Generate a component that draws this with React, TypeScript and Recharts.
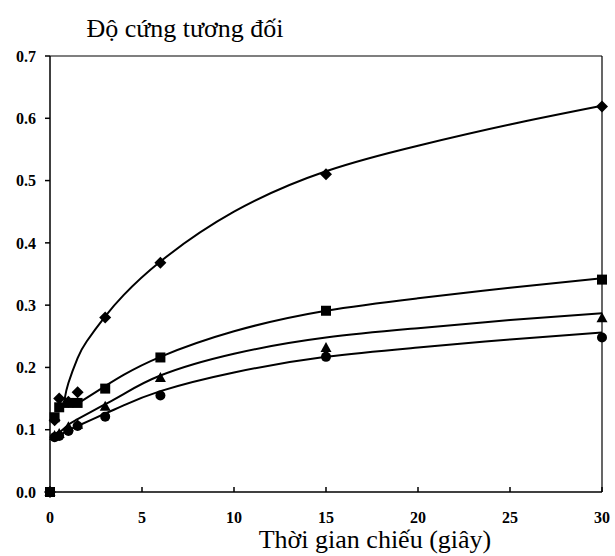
import { ComposedChart, Line, Scatter, XAxis, YAxis, ReferenceLine } from 'recharts'

// measured points (time in seconds, relative hardness)
const times = [0, 0.25, 0.5, 1, 1.5, 3, 6, 15, 30]
const diamondValues = [0, 0.115, 0.15, 0.145, 0.16, 0.28, 0.368, 0.51, 0.619]
const squareValues = [0, 0.12, 0.136, 0.143, 0.143, 0.166, 0.216, 0.291, 0.341]
const triangleValues = [0, 0.09, 0.093, 0.104, 0.108, 0.137, 0.183, 0.231, 0.279]
const circleValues = [0, 0.088, 0.09, 0.098, 0.106, 0.121, 0.155, 0.217, 0.248]

// fitted curves
const diamondFitTimes = [0.8, 1, 1.5, 2, 3, 4, 6, 10, 15, 20, 25, 30]
const diamondFitValues = [0.15, 0.175, 0.215, 0.242, 0.282, 0.316, 0.37, 0.45, 0.515, 0.556, 0.59, 0.62]
const squareFitTimes = [1.5, 3, 4, 6, 10, 15, 20, 25, 30]
const squareFitValues = [0.142, 0.17, 0.188, 0.217, 0.258, 0.291, 0.311, 0.328, 0.343]
const triangleFitTimes = [0.3, 1, 1.5, 3, 4, 6, 10, 15, 20, 25, 30]
const triangleFitValues = [0.09, 0.108, 0.117, 0.141, 0.157, 0.187, 0.222, 0.248, 0.263, 0.276, 0.287]
const circleFitTimes = [0.3, 1, 1.5, 3, 4, 6, 10, 15, 20, 25, 30]
const circleFitValues = [0.088, 0.099, 0.106, 0.126, 0.139, 0.162, 0.192, 0.217, 0.232, 0.245, 0.256]

const xTicks = [0, 5, 10, 15, 20, 25, 30]
const yTicks = [0, 0.1, 0.2, 0.3, 0.4, 0.5, 0.6, 0.7]

const yTitle = 'Độ cứng tương đối'
const xTitle = 'Thời gian chiếu (giây)'

const pts = (xs: number[], ys: number[]) => xs.map((x, i) => ({ x, y: ys[i] }))

const serif = '"Liberation Serif", "Times New Roman", serif'

const Diamond = (p: any) => {
  const { cx, cy } = p
  const r = 6
  return <path d={`M${cx},${cy - r}L${cx + r},${cy}L${cx},${cy + r}L${cx - r},${cy}Z`} fill="#000" />
}
const Square = (p: any) => <rect x={p.cx - 5} y={p.cy - 5} width={10} height={10} fill="#000" />
const Triangle = (p: any) => {
  const { cx, cy } = p
  return <path d={`M${cx},${cy - 6}L${cx + 5.5},${cy + 4}L${cx - 5.5},${cy + 4}Z`} fill="#000" />
}
const Circle = (p: any) => <circle cx={p.cx} cy={p.cy} r={5} fill="#000" />

const fitLine = (data: { x: number; y: number }[], key: string) => (
  <Line
    key={key}
    data={data}
    dataKey="y"
    type="natural"
    dot={false}
    activeDot={false}
    stroke="#000"
    strokeWidth={2}
    isAnimationActive={false}
  />
)

export default function App() {
  const tick = { fontFamily: serif, fontSize: 16, fontWeight: 'bold', fill: '#000' }
  return (
    <div style={{ position: 'absolute', left: 0, top: 0, width: 615, height: 556, background: '#fff' }}>
      <ComposedChart width={615} height={556} margin={{ top: 56, right: 13, bottom: 34, left: 10 }}>
        <XAxis
          type="number"
          dataKey="x"
          domain={[0, 30]}
          ticks={xTicks}
          tickSize={-5}
          tickMargin={25}
          stroke="#000"
          strokeWidth={1.5}
          height={30}
          tick={tick}
          allowDuplicatedCategory={false}
        />
        <YAxis
          type="number"
          dataKey="y"
          domain={[0, 0.7]}
          ticks={yTicks}
          tickFormatter={(v: number) => v.toFixed(1)}
          tickSize={5}
          tickMargin={9}
          stroke="#000"
          strokeWidth={1.5}
          width={40}
          tick={tick}
        />
        <ReferenceLine y={0.7} stroke="#000" strokeWidth={1.2} />
        <ReferenceLine x={30} stroke="#000" strokeWidth={1.2} />
        {fitLine(pts(circleFitTimes, circleFitValues), 'cf')}
        {fitLine(pts(triangleFitTimes, triangleFitValues), 'tf')}
        {fitLine(pts(squareFitTimes, squareFitValues), 'sf')}
        {fitLine(pts(diamondFitTimes, diamondFitValues), 'df')}
        <Scatter data={pts(times, circleValues)} shape={Circle} isAnimationActive={false} />
        <Scatter data={pts(times, triangleValues)} shape={Triangle} isAnimationActive={false} />
        <Scatter data={pts(times, diamondValues)} shape={Diamond} isAnimationActive={false} />
        <Scatter data={pts(times, squareValues)} shape={Square} isAnimationActive={false} />
      </ComposedChart>
      <div
        style={{
          position: 'absolute',
          left: 185,
          top: 16,
          transform: 'translateX(-50%)',
          whiteSpace: 'nowrap',
          fontFamily: serif,
          fontSize: 26,
          lineHeight: '26px',
          color: '#000',
        }}
      >
        {yTitle}
      </div>
      <div
        style={{
          position: 'absolute',
          left: 375,
          top: 527,
          transform: 'translateX(-50%)',
          whiteSpace: 'nowrap',
          fontFamily: serif,
          fontSize: 26,
          lineHeight: '26px',
          color: '#000',
        }}
      >
        {xTitle}
      </div>
    </div>
  )
}
